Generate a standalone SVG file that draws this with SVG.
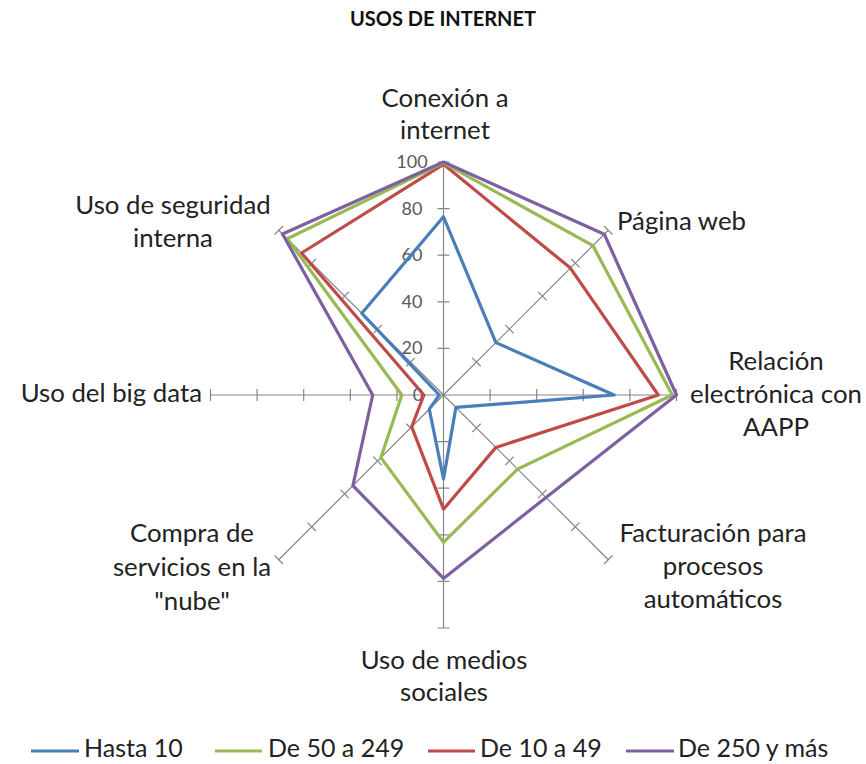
<svg xmlns="http://www.w3.org/2000/svg" xmlns:xlink="http://www.w3.org/1999/xlink" width="866" height="764" viewBox="0 0 866 764">
<style>
.lbl{font-family:Lato,"Open Sans","Liberation Sans",sans-serif;font-size:25.8px;fill:#222}
.leg{font-family:Lato,"Open Sans","Liberation Sans",sans-serif;font-size:25px;fill:#222}
.val{font-family:Lato,"Open Sans","Liberation Sans",sans-serif;font-size:18px;fill:#595959;text-anchor:middle}
.title{font-family:Lato,"Open Sans","Liberation Sans",sans-serif;font-size:20px;font-weight:bold;fill:#111;text-anchor:middle}
.mid{text-anchor:middle}
.ser{fill:none;stroke-width:3.2;stroke-linejoin:round}
.ax{stroke:#868686;stroke-width:1.2;fill:none}
</style>
<defs>
<g id="axis">
<line class="ax" x1="0" y1="0" x2="0" y2="-233"/>
<path class="ax" d="M-6,-46.6H6M-6,-93.2H6M-6,-139.8H6M-6,-186.4H6M-6,-233H6"/>
</g>
</defs>
<rect width="866" height="764" fill="#fff"/>
<text class="title" x="443" y="26">USOS DE INTERNET</text>
<g id="axes">
<use xlink:href="#axis" transform="translate(443.5,395)"/>
<use xlink:href="#axis" transform="translate(443.5,395) rotate(45)"/>
<use xlink:href="#axis" transform="translate(443.5,395) rotate(90)"/>
<use xlink:href="#axis" transform="translate(443.5,395) rotate(135)"/>
<use xlink:href="#axis" transform="translate(443.5,395) rotate(180)"/>
<use xlink:href="#axis" transform="translate(443.5,395) rotate(225)"/>
<use xlink:href="#axis" transform="translate(443.5,395) rotate(270)"/>
<use xlink:href="#axis" transform="translate(443.5,395) rotate(315)"/>
</g>
<g id="scale">
<text class="val" x="412" y="168">100</text>
<text class="val" x="412" y="215">80</text>
<text class="val" x="412" y="261">60</text>
<text class="val" x="412" y="308">40</text>
<text class="val" x="412" y="354">20</text>
<text class="val" x="418" y="401">0</text>
</g>
<g id="series">
<polygon class="ser" stroke="#4A7EBB" points="443.5,216.8 495.9,342.6 614.1,395 455.9,407.4 443.5,478.9 429.3,409.2 439.3,395 361.8,313.3"/>
<polygon class="ser" stroke="#BE4B48" points="443.5,164.3 570.4,268.1 658.3,395 495.9,447.4 443.5,509.2 411.7,426.8 423.9,395 301.5,253"/>
<polygon class="ser" stroke="#98B954" points="443.5,162.9 592.9,245.6 672.3,395 517.6,469.1 443.5,542.3 380.9,457.6 401.8,395 287.3,238.8"/>
<polygon class="ser" stroke="#7D60A0" points="443.5,162 604.3,234.2 676.5,395 546,497.5 443.5,578.4 352.9,485.6 372.7,395 282.5,234"/>
</g>
<g id="labels">
<g id="lbl-conexion"><text class="lbl mid" x="445" y="107">Conexión a</text><text class="lbl mid" x="445" y="139">internet</text></g>
<g id="lbl-web"><text class="lbl" x="617" y="230">Página web</text></g>
<g id="lbl-relacion"><text class="lbl mid" x="776" y="370">Relación</text><text class="lbl mid" x="776" y="403">electrónica con</text><text class="lbl mid" x="776" y="436">AAPP</text></g>
<g id="lbl-facturacion"><text class="lbl mid" x="713" y="542">Facturación para</text><text class="lbl mid" x="713" y="575">procesos</text><text class="lbl mid" x="713" y="608">automáticos</text></g>
<g id="lbl-medios"><text class="lbl mid" x="444" y="669">Uso de medios</text><text class="lbl mid" x="444" y="701">sociales</text></g>
<g id="lbl-nube"><text class="lbl mid" x="192" y="542">Compra de</text><text class="lbl mid" x="192" y="576">servicios en la</text><text class="lbl mid" x="192" y="610">"nube"</text></g>
<g id="lbl-bigdata"><text class="lbl" x="202" y="402" text-anchor="end">Uso del big data</text></g>
<g id="lbl-seguridad"><text class="lbl mid" x="173" y="214">Uso de seguridad</text><text class="lbl mid" x="173" y="247">interna</text></g>
</g>
<g id="legend">
<line x1="31" y1="751" x2="79" y2="751" stroke="#4A7EBB" stroke-width="3"/>
<text class="leg" x="84" y="757">Hasta 10</text>
<line x1="215" y1="751" x2="262" y2="751" stroke="#98B954" stroke-width="3"/>
<text class="leg" x="268" y="757">De 50 a 249</text>
<line x1="428" y1="751" x2="475" y2="751" stroke="#BE4B48" stroke-width="3"/>
<text class="leg" x="480" y="757">De 10 a 49</text>
<line x1="626" y1="751" x2="674" y2="751" stroke="#7D60A0" stroke-width="3"/>
<text class="leg" x="678" y="757">De 250 y más</text>
</g>
</svg>
